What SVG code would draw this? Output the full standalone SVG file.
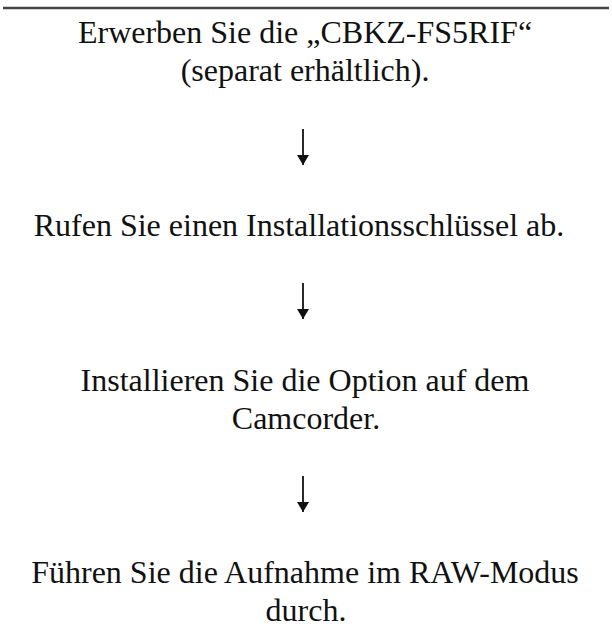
<svg xmlns="http://www.w3.org/2000/svg" width="612" height="631" viewBox="0 0 612 631">
<style>
.t{font-family:"Liberation Serif","Times New Roman",serif;font-size:32px;fill:#111;text-anchor:middle}
.c{stroke:#111;stroke-width:1.8;fill:none}
</style>
<defs>
<marker id="ah" markerWidth="12" markerHeight="12" refX="10" refY="6" orient="auto" markerUnits="userSpaceOnUse" viewBox="0 0 12 12">
<path d="M0,0 L10,6 L0,12 Z" fill="#111"/>
</marker>
</defs>
<rect width="612" height="631" fill="#fff"/>
<line x1="3" y1="8" x2="609" y2="8" stroke="#444" stroke-width="2.5"/>
<g id="step1"><text class="t" x="305" y="43">Erwerben Sie die „CBKZ-FS5RIF“</text><text class="t" x="305" y="81">(separat erhältlich).</text></g>
<g id="step2"><text class="t" x="299" y="236">Rufen Sie einen Installationsschlüssel ab.</text></g>
<g id="step3"><text class="t" x="305" y="391">Installieren Sie die Option auf dem</text><text class="t" x="306" y="429">Camcorder.</text></g>
<g id="step4"><text class="t" x="305" y="583">Führen Sie die Aufnahme im RAW-Modus</text><text class="t" x="306" y="621">durch.</text></g>
<g id="connectors">
<path class="c" d="M303,129 V165" marker-end="url(#ah)"/>
<path class="c" d="M303,283 V319" marker-end="url(#ah)"/>
<path class="c" d="M303,476 V512" marker-end="url(#ah)"/>
</g>
</svg>
